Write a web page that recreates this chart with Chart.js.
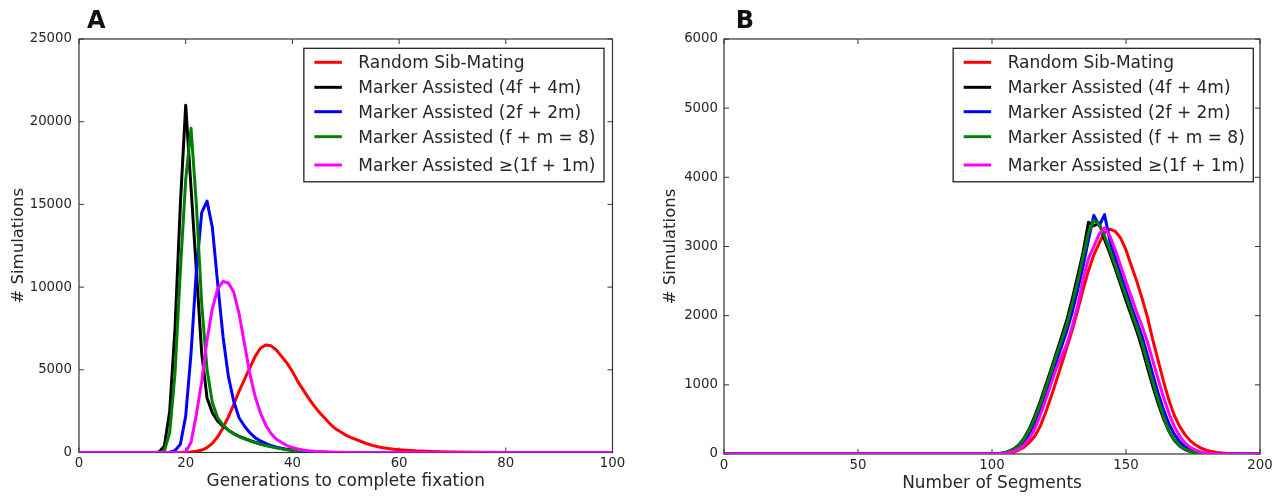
<!DOCTYPE html>
<html>
<head>
<meta charset="utf-8">
<script src="https://cdn.jsdelivr.net/npm/chart.js@4.4.0/dist/chart.umd.min.js"></script>
<style>
  body { margin: 0; background: #fff; }
  #wrap { position: relative; width: 1282px; height: 497px; }
  canvas { position: absolute; top: 0; }
</style>
</head>
<body>
<div id="wrap">
  <canvas id="chartA" width="640" height="497" style="left:0"></canvas>
  <canvas id="chartB" width="642" height="497" style="left:640px"></canvas>
</div>
<script>
// legend labels and line colours (shared by both panels)
const labels = ['Random Sib-Mating', 'Marker Assisted (4f + 4m)', 'Marker Assisted (2f + 2m)',
  'Marker Assisted (f + m = 8)', 'Marker Assisted \u2265(1f + 1m)'];
const colors = ['#ff0000', '#000000', '#0000ff', '#008000', '#ff00ff'];

// panel A: generations to complete fixation (0, 14..60, tail)
const genA = [0,
  14, 15, 16, 17, 18, 19, 20, 21, 22, 23,
  24, 25, 26, 27, 28, 29, 30, 31, 32, 33,
  34, 35, 36, 37, 38, 39, 40, 41, 42, 43,
  44, 45, 46, 47, 48, 49, 50, 51, 52, 53,
  54, 55, 56, 57, 58, 59, 60,
  63, 66, 70, 80, 100];
const randomA = [0,
  0, 0, 0, 0, 0, 0, 10, 30, 80, 150,
  300, 550, 950, 1500, 2150, 2900, 3700, 4400, 5100, 5800,
  6300, 6500, 6450, 6200, 5800, 5400, 4900, 4300, 3800, 3300,
  2850, 2450, 2100, 1750, 1450, 1250, 1050, 900, 780, 650,
  530, 430, 350, 290, 240, 200, 170,
  100, 60, 30, 5, 0];
const ma44A = [0,
  0, 30, 400, 2500, 7500, 15000, 21000, 16000, 11000, 6000,
  3300, 2400, 1900, 1600, 1350, 1150, 980, 850, 730, 620,
  520, 440, 370, 300, 240, 190, 150, 110, 80, 55,
  35, 20, 12, 6, 3, 0, 0, 0, 0, 0,
  0, 0, 0, 0, 0, 0, 0,
  0, 0, 0, 0, 0];
const ma22A = [0,
  0, 0, 0, 20, 120, 500, 2200, 6000, 11000, 14500,
  15200, 13600, 10200, 7000, 4600, 3100, 2100, 1600, 1200, 900,
  700, 550, 420, 320, 240, 180, 130, 90, 60, 40,
  25, 15, 8, 4, 0, 0, 0, 0, 0, 0,
  0, 0, 0, 0, 0, 0, 0,
  0, 0, 0, 0, 0];
const maF8A = [0,
  0, 0, 100, 1200, 4800, 11000, 16500, 19600, 15000, 9000,
  5000, 3000, 2100, 1650, 1350, 1120, 950, 820, 700, 600,
  500, 420, 350, 280, 220, 170, 130, 95, 65, 45,
  28, 15, 8, 4, 0, 0, 0, 0, 0, 0,
  0, 0, 0, 0, 0, 0, 0,
  0, 0, 0, 0, 0];
const ma11A = [0,
  0, 0, 0, 0, 0, 0, 50, 600, 2300, 4300,
  6800, 8700, 9900, 10350, 10250, 9700, 8400, 6600, 4800, 3400,
  2400, 1650, 1150, 800, 600, 420, 300, 210, 150, 100,
  70, 50, 35, 25, 15, 10, 5, 0, 0, 0,
  0, 0, 0, 0, 0, 0, 0,
  0, 0, 0, 0, 0];

// panel B: number of segments (0, 100..190 by 2, 200)
const segB = [0,
  100, 102, 104, 106, 108, 110, 112, 114, 116, 118,
  120, 122, 124, 126, 128, 130, 132, 134, 136, 138,
  140, 142, 144, 146, 148, 150, 152, 154, 156, 158,
  160, 162, 164, 166, 168, 170, 172, 174, 176, 178,
  180, 182, 184, 186, 188, 190,
  200];
const randomB = [0,
  0, 0, 5, 10, 20, 60, 100, 170, 260, 400,
  600, 820, 1060, 1300, 1550, 1800, 2080, 2380, 2650, 2880,
  3050, 3200, 3250, 3220, 3120, 2950, 2720, 2500, 2250, 1980,
  1650, 1350, 1050, 780, 560, 400, 280, 190, 130, 85,
  55, 35, 22, 14, 8, 4,
  0];
const ma44B = [0,
  0, 5, 15, 35, 70, 130, 230, 370, 550, 760,
  990, 1220, 1460, 1700, 1950, 2250, 2580, 2920, 3350, 3300,
  3340, 3100, 2900, 2680, 2450, 2220, 2000, 1780, 1530, 1250,
  980, 730, 510, 330, 200, 115, 65, 35, 18, 8,
  3, 0, 0, 0, 0, 0,
  0];
const ma22B = [0,
  0, 0, 10, 25, 50, 95, 175, 300, 460, 660,
  880, 1110, 1340, 1560, 1790, 2060, 2380, 2720, 3100, 3450,
  3300, 3460, 3080, 2830, 2590, 2360, 2130, 1920, 1700, 1430,
  1150, 880, 640, 440, 290, 180, 105, 60, 30, 15,
  6, 0, 0, 0, 0, 0,
  0];
const maF8B = [0,
  0, 5, 15, 30, 60, 120, 220, 350, 520, 720,
  950, 1180, 1420, 1650, 1880, 2180, 2500, 2850, 3200, 3380,
  3320, 3150, 2950, 2730, 2500, 2280, 2060, 1840, 1600, 1320,
  1040, 780, 540, 340, 210, 120, 70, 40, 20, 10,
  5, 0, 0, 0, 0, 0,
  0];
const ma11B = [0,
  0, 0, 5, 15, 35, 70, 130, 230, 370, 560,
  780, 1010, 1240, 1420, 1600, 1860, 2150, 2530, 2830, 3000,
  3180, 3270, 3150, 2950, 2720, 2490, 2270, 2050, 1850, 1620,
  1350, 1080, 820, 590, 400, 260, 160, 95, 55, 30,
  15, 8, 3, 0, 0, 0,
  0];

const textColor = '#262626';
Chart.defaults.font.family = '"DejaVu Sans", sans-serif';

function series(xs, ys) {
  return xs.map((x, i) => ({ x: x, y: ys[i] }));
}

// matplotlib style box with inward ticks on all four sides
const frame = {
  id: 'frame',
  beforeDatasetsDraw(chart) {
    const { ctx, chartArea: a, scales: { x, y } } = chart;
    ctx.save();
    ctx.strokeStyle = '#333';
    ctx.lineWidth = 1.2;
    ctx.strokeRect(a.left, a.top, a.right - a.left, a.bottom - a.top);
    ctx.lineWidth = 1;
    ctx.beginPath();
    x.ticks.forEach(t => {
      const px = x.getPixelForValue(t.value);
      ctx.moveTo(px, a.bottom); ctx.lineTo(px, a.bottom - 5);
      ctx.moveTo(px, a.top); ctx.lineTo(px, a.top + 5);
    });
    y.ticks.forEach(t => {
      const py = y.getPixelForValue(t.value);
      ctx.moveTo(a.left, py); ctx.lineTo(a.left + 5, py);
      ctx.moveTo(a.right, py); ctx.lineTo(a.right - 5, py);
    });
    ctx.stroke();
    ctx.restore();
  }
};

const boxLegend = {
  id: 'boxLegend',
  afterDatasetsDraw(chart, args, opts) {
    const { ctx, chartArea: a } = chart;
    const sets = chart.data.datasets;
    ctx.save();
    ctx.font = '17px "DejaVu Sans"';
    const textW = Math.max(...sets.map(d => ctx.measureText(d.label).width));
    const w = 54.5 + textW + 8.5;
    const h = 133.5;
    const left = a.right - opts.right - w;
    const top = a.top + 9.3;
    const rows = [14, 39, 63.4, 88.4, 116.7];
    ctx.fillStyle = '#fff';
    ctx.fillRect(left, top, w, h);
    ctx.strokeStyle = '#222';
    ctx.lineWidth = 1.3;
    ctx.strokeRect(left, top, w, h);
    sets.forEach((d, i) => {
      const yy = top + rows[i];
      ctx.strokeStyle = d.borderColor;
      ctx.lineWidth = 3;
      ctx.beginPath();
      ctx.moveTo(left + 10.5, yy);
      ctx.lineTo(left + 38, yy);
      ctx.stroke();
      ctx.fillStyle = textColor;
      ctx.textBaseline = 'alphabetic';
      ctx.fillText(d.label, left + 54.5, yy + 6);
    });
    ctx.restore();
  }
};

const panelTag = {
  id: 'panelTag',
  afterDraw(chart, args, opts) {
    const { ctx } = chart;
    ctx.save();
    ctx.font = 'bold 24px "DejaVu Sans"';
    ctx.fillStyle = '#111';
    ctx.textBaseline = 'alphabetic';
    ctx.fillText(opts.text, opts.x, 27.5);
    ctx.restore();
  }
};

function makeChart(id, xs, ys, o) {
  return new Chart(document.getElementById(id), {
    type: 'line',
    data: {
      datasets: labels.map((lab, i) => ({
        label: lab,
        data: series(xs, ys[i]),
        borderColor: colors[i],
        borderWidth: 3,
        pointRadius: 0,
        tension: 0,
        fill: false,
        borderJoinStyle: 'round',
        order: labels.length - i
      }))
    },
    options: {
      responsive: false,
      animation: false,
      layout: { padding: { top: 39, right: o.padRight, left: 0, bottom: 0 } },
      plugins: {
        legend: { display: false },
        tooltip: { enabled: false },
        boxLegend: { right: o.legendRight },
        panelTag: { text: o.tag, x: o.tagX }
      },
      scales: {
        x: {
          type: 'linear', min: 0, max: o.xMax,
          ticks: { stepSize: o.xStep, padding: 3.5, color: textColor, font: { size: 13.3 },
            maxRotation: 0, callback: v => String(v) },
          grid: { display: false, drawTicks: false },
          border: { display: false },
          title: { display: true, text: o.xTitle, color: textColor, font: { size: 16.9 },
            padding: { top: 0, bottom: o.xTitlePad } },
          afterFit: s => { s.height = 497 - o.bottom; }
        },
        y: {
          type: 'linear', min: 0, max: o.yMax,
          ticks: { stepSize: o.yStep, padding: o.yTickPad, color: textColor, font: { size: 13.3 },
            callback: v => String(v) },
          grid: { display: false, drawTicks: false },
          border: { display: false },
          title: { display: true, text: '# Simulations', color: textColor, font: { size: 16.5 },
            padding: { top: o.yTitlePad, bottom: 0 } },
          afterFit: s => { s.width = o.left; }
        }
      }
    },
    plugins: [frame, boxLegend, panelTag]
  });
}

makeChart('chartA', genA, [randomA, ma44A, ma22A, maF8A, ma11A], {
  xMax: 100, xStep: 20, yMax: 25000, yStep: 5000,
  xTitle: 'Generations to complete fixation',
  left: 79, padRight: 27.5, bottom: 452.5,
  yTickPad: 7, yTitlePad: 9, xTitlePad: 5,
  legendRight: 8.5, tag: 'A', tagX: 87
});

makeChart('chartB', segB, [randomB, ma44B, ma22B, maF8B, ma11B], {
  xMax: 200, xStep: 50, yMax: 6000, yStep: 1000,
  xTitle: 'Number of Segments',
  left: 84, padRight: 22, bottom: 454,
  yTickPad: 6, yTitlePad: 21, xTitlePad: 3,
  legendRight: 6.7, tag: 'B', tagX: 95.7
});
</script>
</body>
</html>
